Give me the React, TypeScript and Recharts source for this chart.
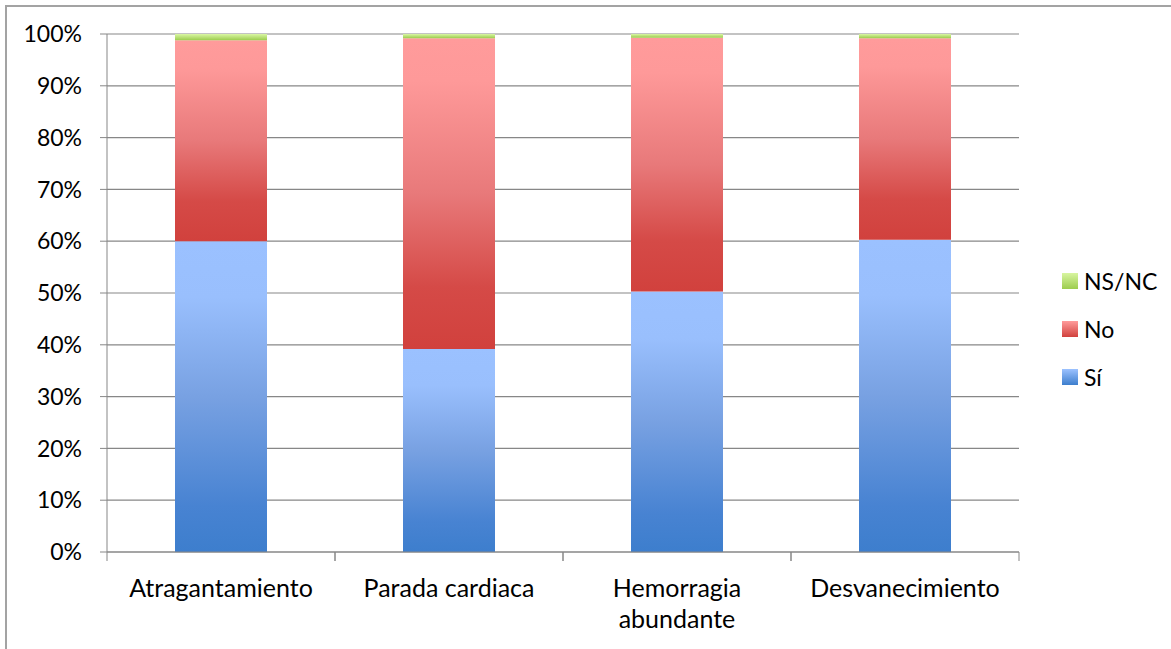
import React from "react";
import { BarChart, Bar, XAxis, YAxis, CartesianGrid, Legend } from "recharts";

const CATEGORIES = ["Atragantamiento", "Parada cardiaca", "Hemorragia abundante", "Desvanecimiento"];
const TICK_LINES = [["Atragantamiento"], ["Parada cardiaca"], ["Hemorragia", "abundante"], ["Desvanecimiento"]];
const SI = [60, 39.2, 50.3, 60.3];
const NO = [38.8, 60, 49, 38.9];
const NSNC = [1.2, 0.8, 0.7, 0.8];
const Y_TICKS = [0, 10, 20, 30, 40, 50, 60, 70, 80, 90, 100];

const data = CATEGORIES.map((name, i) => ({ name, si: SI[i], no: NO[i], nsnc: NSNC[i] }));

const W = 1171;
const H = 649;
const MARGIN = { top: 34, right: 152, bottom: 0, left: 0 };
const Y_AXIS_W = 107;
const X_AXIS_H = 97;
const BAND = (W - MARGIN.right - Y_AXIS_W) / CATEGORIES.length;
const FONT = "Lato, 'Open Sans', sans-serif";
const AXIS_GRAY = "#878787";

const SWATCH: Record<string, string> = {
  "Sí": "linear-gradient(#9cc2ff, #3d7ecd)",
  No: "linear-gradient(#ff9b9b, #d1413d)",
  "NS/NC": "linear-gradient(#d8f5a0, #9ccc4e)",
};

function CategoryTick(props: any) {
  const { x, y, index } = props;
  const lines = TICK_LINES[index] || [props.payload.value];
  return (
    <g>
      <line x1={x - BAND / 2} x2={x - BAND / 2} y1={y} y2={y + 9} stroke={AXIS_GRAY} />
      <line x1={x + BAND / 2} x2={x + BAND / 2} y1={y} y2={y + 9} stroke={AXIS_GRAY} />
      <text x={x} y={y + 45} textAnchor="middle" fill="#000" fontSize={25} fontFamily={FONT}>
        {lines.map((l, i) => (
          <tspan key={i} x={x} dy={i === 0 ? 0 : 31}>
            {l}
          </tspan>
        ))}
      </text>
    </g>
  );
}

function LegendBox(props: any) {
  const items = props.payload || [];
  return (
    <div style={{ fontFamily: FONT, fontSize: 23, color: "#000" }}>
      {items.map((p: any) => (
        <div key={p.value} style={{ display: "flex", alignItems: "center", height: 48 }}>
          <span style={{ width: 16, height: 16, background: SWATCH[p.value], marginRight: 6 }} />
          <span style={{ lineHeight: 1 }}>{p.value}</span>
        </div>
      ))}
    </div>
  );
}

export default function App() {
  return (
    <div style={{ position: "absolute", left: 0, top: 0, width: W, height: H, background: "#fff", overflow: "hidden" }}>
      <div style={{ position: "absolute", left: 5, top: 5, width: 2, height: H, background: "#a3a3a3" }} />
      <div style={{ position: "absolute", left: 5, top: 5, width: W, height: 2, background: "#a3a3a3" }} />
      <BarChart width={W} height={H} data={data} margin={MARGIN} barSize={92}>
        <defs>
          <linearGradient id="gSi" x1="0" y1="0" x2="0" y2="1">
            <stop offset="0" stopColor="#9bc1ff" />
            <stop offset="0.18" stopColor="#99bffd" />
            <stop offset="0.5" stopColor="#78a1e2" />
            <stop offset="0.85" stopColor="#4883d2" />
            <stop offset="1" stopColor="#3d7ecd" />
          </linearGradient>
          <linearGradient id="gNo" x1="0" y1="0" x2="0" y2="1">
            <stop offset="0" stopColor="#ff9b9b" />
            <stop offset="0.14" stopColor="#fe9999" />
            <stop offset="0.5" stopColor="#e8797a" />
            <stop offset="0.8" stopColor="#d54a47" />
            <stop offset="1" stopColor="#d1413d" />
          </linearGradient>
          <linearGradient id="gNs" x1="0" y1="0" x2="0" y2="1">
            <stop offset="0" stopColor="#daf7a4" />
            <stop offset="1" stopColor="#9ccc4e" />
          </linearGradient>
        </defs>
        <CartesianGrid vertical={false} stroke={AXIS_GRAY} strokeWidth={1.2} />
        <XAxis
          dataKey="name"
          height={X_AXIS_H}
          tickLine={false}
          tickSize={0}
          tickMargin={0}
          interval={0}
          axisLine={{ stroke: AXIS_GRAY }}
          tick={<CategoryTick />}
        />
        <YAxis
          width={Y_AXIS_W}
          domain={[0, 100]}
          ticks={Y_TICKS}
          tickFormatter={(v: number) => `${v}%`}
          tickSize={7}
          tickMargin={18}
          axisLine={{ stroke: AXIS_GRAY }}
          tickLine={{ stroke: AXIS_GRAY }}
          tick={{ fill: "#000", fontSize: 23, fontFamily: FONT }}
          allowDataOverflow
        />
        <Legend
          layout="vertical"
          align="center"
          verticalAlign="middle"
          content={<LegendBox />}
          wrapperStyle={{ left: 1062, top: 257, width: 110 }}
        />
        <Bar dataKey="si" name="Sí" stackId="a" fill="url(#gSi)" isAnimationActive={false} />
        <Bar dataKey="no" name="No" stackId="a" fill="url(#gNo)" isAnimationActive={false} />
        <Bar dataKey="nsnc" name="NS/NC" stackId="a" fill="url(#gNs)" isAnimationActive={false} />
      </BarChart>
    </div>
  );
}
